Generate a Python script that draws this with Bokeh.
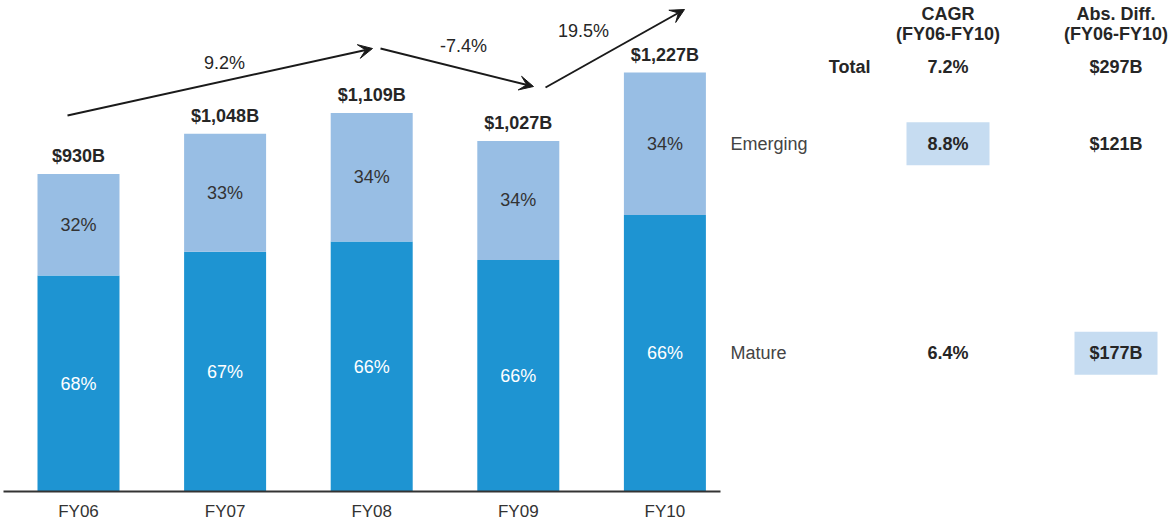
from bokeh.plotting import figure
from bokeh.models import ColumnDataSource, Range1d, Arrow, VeeHead
from bokeh.core.properties import value
from bokeh.embed import file_html
from bokeh.resources import INLINE

# ---- data ----
years = ["FY06", "FY07", "FY08", "FY09", "FY10"]
totals = [930, 1048, 1109, 1027, 1227]
mature_pct = [68, 67, 66, 66, 66]
emerging_pct = [32, 33, 34, 34, 34]
growth_labels = ["9.2%", "-7.4%", "19.5%"]
row_labels = ["Total", "Emerging", "Mature"]
cagr = ["7.2%", "8.8%", "6.4%"]
abs_diff = ["$297B", "$121B", "$177B"]

MATURE_C = "#1e94d2"
EMERG_C = "#98bee4"
HILITE_C = "#c6dcf1"
TXT = "#262626"
FONT = value("Liberation Sans")
FS = "18px"

W, H = 1173, 522
X0, STEP = 78.0, 146.6      # px of first bar centre, px per category
BASE, PXB = 491.0, 0.3414   # px of zero line, px per $B

def dx(px):
    return (px - X0) / STEP

def dy(py):
    return (BASE - py) / PXB

p = figure(width=W, height=H, output_backend="svg", toolbar_location=None,
           x_range=Range1d(dx(0), dx(W)), y_range=Range1d(dy(H), dy(0)),
           x_axis_location=None, y_axis_location=None, min_border=0)
p.outline_line_color = None
p.xgrid.visible = False
p.ygrid.visible = False
p.background_fill_color = "white"
p.border_fill_color = "white"

xs = list(range(len(years)))
mature = [t * m / 100 for t, m in zip(totals, mature_pct)]
emerging = [t - m for t, m in zip(totals, mature)]
src = ColumnDataSource(dict(
    x=xs, mature=mature, emerging=emerging, total=totals,
    mid_m=[m / 2 for m in mature],
    mid_e=[m + e / 2 for m, e in zip(mature, emerging)],
    lab_y=[dy(511)] * len(xs),
    tot_lbl=["${:,}B".format(t) for t in totals],
    m_lbl=[f"{v}%" for v in mature_pct],
    e_lbl=[f"{v}%" for v in emerging_pct],
    yr=years,
))

bw = 82 / STEP
p.vbar_stack(["mature", "emerging"], x="x", width=bw, color=[MATURE_C, EMERG_C],
             line_color=None, source=src)

# baseline axis
p.segment(x0=[dx(3)], y0=[0], x1=[dx(720)], y1=[0], line_color="#333333", line_width=2)

# labels
p.text(x="x", y="total", text="tot_lbl", source=src, text_align="center",
       text_baseline="middle", y_offset=-18, text_font=FONT,
       text_font_size=FS, text_font_style="bold", text_color=TXT)
p.text(x="x", y="mid_m", text="m_lbl", source=src, text_align="center",
       text_baseline="middle", text_font=FONT, text_font_size=FS, text_color="white")
p.text(x="x", y="mid_e", text="e_lbl", source=src, text_align="center",
       text_baseline="middle", text_font=FONT, text_font_size=FS, text_color="#333333")
p.text(x="x", y="lab_y", text="yr", source=src, text_align="center",
       text_baseline="middle", text_font=FONT, text_font_size="17px", text_color="#333333")

# growth arrows (annotation geometry in pixels)
arrows_px = [((67, 115), (372, 48)), ((380, 48), (533, 86)), ((545, 87), (684, 9))]
for (sx, sy), (ex, ey) in arrows_px:
    p.add_layout(Arrow(end=VeeHead(size=14, fill_color="#1a1a1a", line_color="#1a1a1a"),
                       x_start=dx(sx), y_start=dy(sy), x_end=dx(ex), y_end=dy(ey),
                       line_color="#1a1a1a", line_width=2))
glbl_px = [(224, 62), (463, 45), (583, 30)]
p.text(x=[dx(a) for a, _ in glbl_px], y=[dy(b) for _, b in glbl_px], text=growth_labels,
       text_align="center", text_baseline="middle", text_font=FONT,
       text_font_size=FS, text_color=TXT)

# ---- table ----
CAGR_X, ABS_X = dx(947.5), dx(1115.5)
row_y = [dy(66), mature[-1] + emerging[-1] / 2, mature[-1] / 2]

# highlight boxes: emerging CAGR, mature abs diff
p.rect(x=[CAGR_X, ABS_X], y=[row_y[1], row_y[2]], width=83, height=43,
       width_units="screen", height_units="screen", fill_color=HILITE_C, line_color=None)

for cx, (l1, l2) in [(CAGR_X, ("CAGR", "(FY06-FY10)")), (ABS_X, ("Abs. Diff.", "(FY06-FY10)"))]:
    p.text(x=[cx, cx], y=[dy(13), dy(33)], text=[l1, l2], text_align="center",
           text_baseline="middle", text_font=FONT, text_font_size=FS,
           text_font_style="bold", text_color=TXT)

p.text(x=[dx(870)], y=[row_y[0]], text=[row_labels[0]], text_align="right",
       text_baseline="middle", text_font=FONT, text_font_size=FS,
       text_font_style="bold", text_color=TXT)
p.text(x=[dx(730)] * 2, y=row_y[1:], text=row_labels[1:], text_align="left",
       text_baseline="middle", text_font=FONT, text_font_size=FS, text_color="#444444")
p.text(x=[CAGR_X] * 3, y=row_y, text=cagr, text_align="center", text_baseline="middle",
       text_font=FONT, text_font_size=FS, text_font_style="bold", text_color=TXT)
p.text(x=[ABS_X] * 3, y=row_y, text=abs_diff, text_align="center", text_baseline="middle",
       text_font=FONT, text_font_size=FS, text_font_style="bold", text_color=TXT)

open("out.html", "w").write(file_html(p, INLINE))
